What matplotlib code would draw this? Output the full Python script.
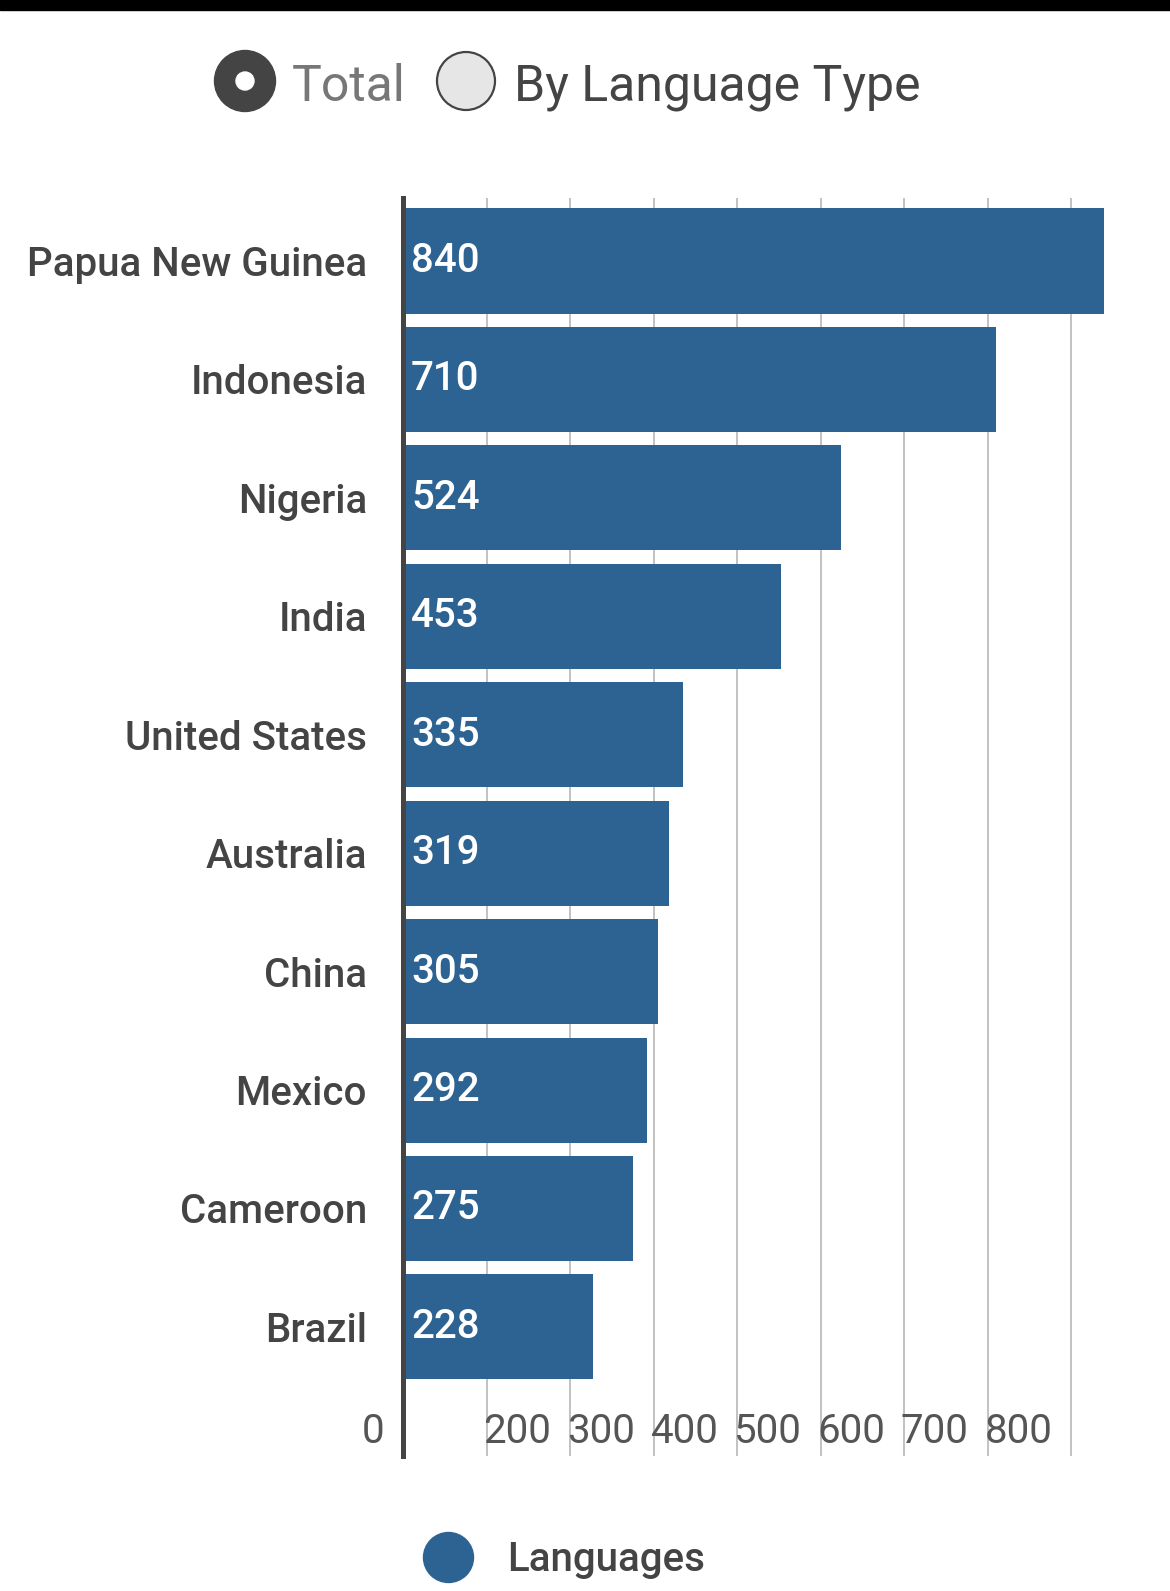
import matplotlib
matplotlib.use('Agg')
import matplotlib.pyplot as plt
from matplotlib.patches import Circle, Rectangle
from matplotlib.lines import Line2D
from matplotlib.transforms import offset_copy

countries = ['Papua New Guinea', 'Indonesia', 'Nigeria', 'India', 'United States',
             'Australia', 'China', 'Mexico', 'Cameroon', 'Brazil']
languages = [840, 710, 524, 453, 335, 319, 305, 292, 275, 228]
grid_values = [100, 200, 300, 400, 500, 600, 700, 800]
tick_values = [0, 100, 200, 300, 400, 500, 600, 700]
tick_labels = ['0', '200', '300', '400', '500', '600', '700', '800']
series_name = 'Languages'
radio_labels = ['Total', 'By Language Type']

plt.rcParams['font.family'] = ['Roboto', 'DejaVu Sans']

W, H = 1170, 1591
fig = plt.figure(figsize=(W / 100, H / 100), dpi=100)

BAR = '#2d6392'
DARK = '#444444'

# overlay for UI decorations (radio buttons, top band)
ov = fig.add_axes([0, 0, 1, 1], zorder=-1)
ov.set_xlim(0, W)
ov.set_ylim(H, 0)
ov.axis('off')
ov.add_patch(Rectangle((0, 0), W, 10, color='black'))
ov.add_patch(Circle((245, 81), 30.5, color=DARK))
ov.add_patch(Circle((245, 81), 9, color='white'))
ov.text(292, 87, radio_labels[0], fontsize=36, color='#777777', va='center', ha='left')
ov.add_patch(Circle((466, 81), 29, facecolor='#e6e6e6', edgecolor=DARK, linewidth=1.6))
ov.text(514, 87, radio_labels[1], fontsize=36, color=DARK, va='center', ha='left')

# main chart
x0px, pxper = 403, 0.835
xmax = 850
ax = fig.add_axes([x0px / W, 1 - 1456 / H, xmax * pxper / W, (1456 - 198) / H])
ypos = list(range(len(countries)))
ax.barh(ypos, languages, height=0.887, color=BAR, zorder=2)
ax.set_xlim(0, xmax)
ax.set_ylim(10.09, -0.532)
ax.set_xticks(grid_values)
ax.tick_params(axis='x', length=0, labelbottom=False)
ax.grid(axis='x', color='#bdbdbd', linewidth=1.3, zorder=0)
ax.set_axisbelow(True)
ax.set_yticks(ypos)
ax.set_yticklabels(countries, fontsize=29, color=DARK, fontweight='medium')
ax.tick_params(axis='y', length=0, pad=26)
for s in ['top', 'right', 'bottom']:
    ax.spines[s].set_visible(False)
ax.spines['left'].set_color(DARK)
ax.spines['left'].set_linewidth(3.6)
ax.set_facecolor('none')

for i, v in enumerate(languages):
    ax.text(9.6, i, str(v), color='white', fontsize=29, va='center', ha='left',
            fontweight='medium')

for tv, tl in zip(tick_values, tick_labels):
    if tv == 0:
        tr = offset_copy(ax.transData, fig=fig, x=-19, y=0, units='dots')
        ax.text(tv, 9.88, tl, transform=tr, ha='right', va='center', fontsize=29, color='#555555')
    else:
        tr = offset_copy(ax.transData, fig=fig, x=-3, y=0, units='dots')
        ax.text(tv, 9.88, tl, transform=tr, ha='left', va='center', fontsize=29, color='#555555')

handle = Line2D([], [], marker='o', linestyle='', markersize=36, color=BAR)
fig.legend(handles=[handle], labels=[series_name], loc='center',
           bbox_to_anchor=(0.4755, 1 - 1560 / H), frameon=False,
           prop={'size': 29, 'weight': 'medium'},
           handletextpad=0.45, labelcolor=DARK)

fig.savefig('out.png', dpi=100)
